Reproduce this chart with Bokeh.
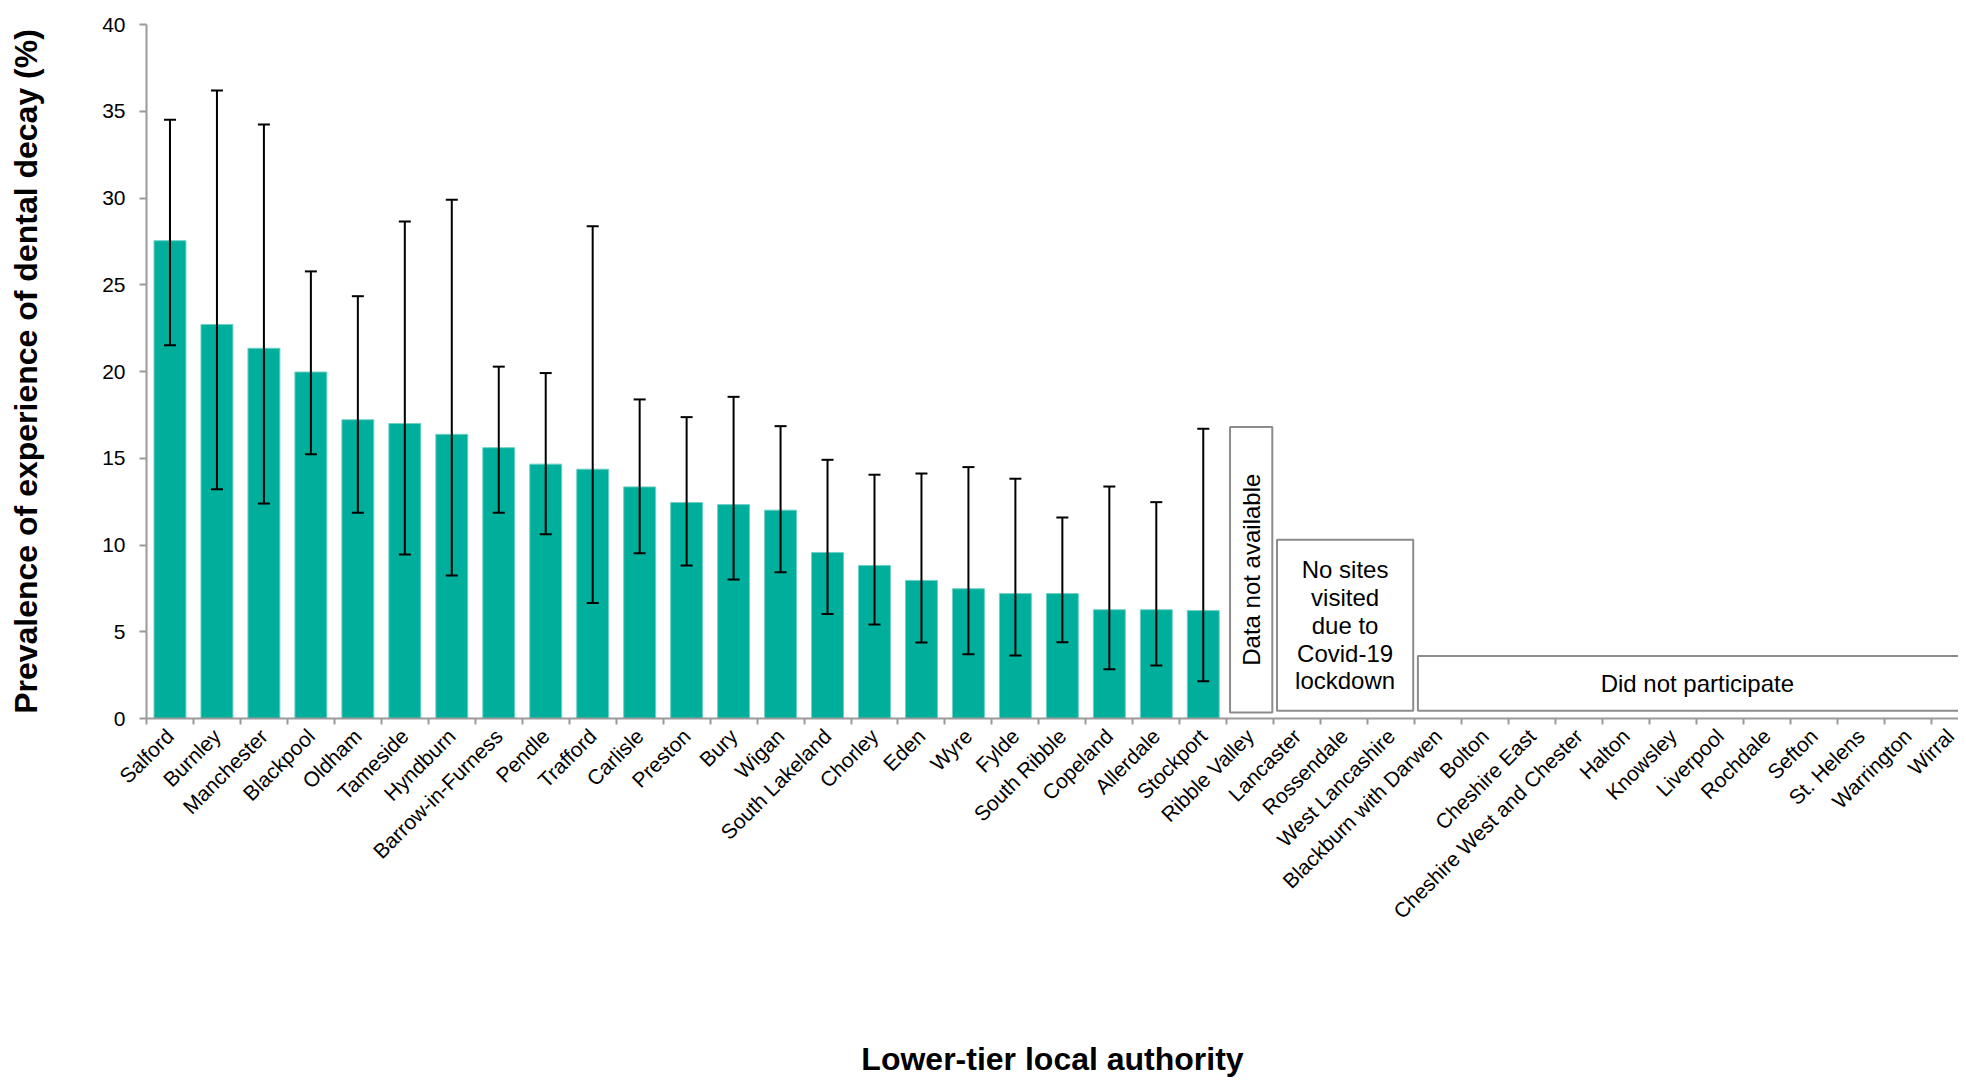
import math
from bokeh.plotting import figure
from bokeh.models import Range1d, FixedTicker, Whisker, TeeHead, ColumnDataSource
from bokeh.core.properties import value
from bokeh.embed import file_html
from bokeh.resources import INLINE

authorities = [
    "Salford", "Burnley", "Manchester", "Blackpool", "Oldham", "Tameside",
    "Hyndburn", "Barrow-in-Furness", "Pendle", "Trafford", "Carlisle", "Preston",
    "Bury", "Wigan", "South Lakeland", "Chorley", "Eden", "Wyre", "Fylde",
    "South Ribble", "Copeland", "Allerdale", "Stockport", "Ribble Valley",
    "Lancaster", "Rossendale", "West Lancashire", "Blackburn with Darwen",
    "Bolton", "Cheshire East", "Cheshire West and Chester", "Halton", "Knowsley",
    "Liverpool", "Rochdale", "Sefton", "St. Helens", "Warrington", "Wirral",
]

prevalence = [27.54, 22.71, 21.34, 19.97, 17.22, 17.00, 16.38, 15.61, 14.66, 14.37,
              13.35, 12.45, 12.33, 12.01, 9.57, 8.82, 7.96, 7.48, 7.20, 7.20,
              6.27, 6.27, 6.22]
ci_upper = [34.51, 36.20, 34.24, 25.77, 24.34, 28.64, 29.90, 20.28, 19.91, 28.37,
            18.39, 17.37, 18.54, 16.85, 14.91, 14.05, 14.12, 14.49, 13.82, 11.59,
            13.37, 12.47, 16.70]
ci_lower = [21.52, 13.22, 12.39, 15.23, 11.86, 9.45, 8.24, 11.86, 10.62, 6.65,
            9.53, 8.82, 8.01, 8.43, 6.03, 5.42, 4.38, 3.71, 3.63, 4.40,
            2.84, 3.05, 2.15]

note_texts = ["Data not available", "No sites\nvisited\ndue to\nCovid-19\nlockdown",
              "Did not participate"]
note_first = ["Ribble Valley", "Lancaster", "Blackburn with Darwen"]
note_last = ["Ribble Valley", "West Lancashire", "Wirral"]
note_top = [16.8, 10.3, 3.6]
note_bottom = [0.35, 0.45, 0.45]
note_angle = [math.pi / 2, 0.0, 0.0]

y_ticks = [0, 5, 10, 15, 20, 25, 30, 35, 40]

FONT = "Liberation Sans"
TEAL = "#00AE9C"
GRAY = "#9a9a9a"
BOX_GRAY = "#8c8c8c"

n = len(authorities)
idx = {a: i for i, a in enumerate(authorities)}

p = figure(width=1958, height=1080, output_backend="svg", toolbar_location=None,
           x_range=Range1d(-0.5, 38.08), y_range=Range1d(0, 40),
           min_border_left=146, min_border_right=0, min_border_top=24,
           min_border_bottom=362)
p.outline_line_color = None
p.xgrid.visible = False
p.ygrid.visible = False
p.background_fill_color = "white"

bar_src = ColumnDataSource(dict(
    x=list(range(len(prevalence))), top=prevalence, upper=ci_upper, lower=ci_lower))
p.vbar(x="x", top="top", width=0.68, bottom=0, source=bar_src,
       fill_color=TEAL, line_color="#6fd0c6", line_width=1)

wh = Whisker(base="x", upper="upper", lower="lower", source=bar_src,
             line_color="black", line_width=2, level="overlay",
             upper_head=TeeHead(size=12, line_color="black", line_width=2),
             lower_head=TeeHead(size=12, line_color="black", line_width=2))
p.add_layout(wh)

left = [idx[a] - 0.5 + 0.07 for a in note_first]
right = [idx[a] + 0.5 - 0.03 for a in note_last]
note_src = ColumnDataSource(dict(
    left=left, right=right, top=note_top, bottom=note_bottom,
    cx=[(l + r) / 2 for l, r in zip(left, right)],
    cy=[(t + b) / 2 for t, b in zip(note_top, note_bottom)],
    text=note_texts, angle=note_angle))
p.quad(left="left", right="right", top="top", bottom="bottom", source=note_src,
       fill_color="white", line_color=BOX_GRAY, line_width=2)
p.text(x="cx", y="cy", text="text", angle="angle", source=note_src,
       text_font=value(FONT), text_font_size="24px", text_align="center",
       text_baseline="middle", text_color="black", text_line_height=1.03)

# x axis
xa = p.xaxis[0]
xa.ticker = FixedTicker(ticks=list(range(n)), minor_ticks=[i - 0.5 for i in range(n + 1)])
xa.major_label_overrides = {i: a for i, a in enumerate(authorities)}
xa.major_label_orientation = math.pi / 4
xa.major_tick_line_color = None
xa.major_tick_out = 0
xa.major_tick_in = 0
xa.minor_tick_line_color = GRAY
xa.minor_tick_line_width = 2
xa.minor_tick_out = 6
xa.minor_tick_in = 0
xa.axis_line_color = GRAY
xa.axis_line_width = 2
xa.major_label_text_font = FONT
xa.major_label_text_font_size = "21px"
xa.major_label_text_color = "black"
xa.major_label_standoff = 8
xa.axis_label = "Lower-tier local authority"
xa.axis_label_text_font = FONT
xa.axis_label_text_font_style = "bold"
xa.axis_label_text_font_size = "32px"
xa.axis_label_text_color = "black"
xa.axis_label_standoff = 107

# y axis
ya = p.yaxis[0]
ya.ticker = FixedTicker(ticks=y_ticks)
ya.minor_tick_line_color = None
ya.major_tick_out = 7
ya.major_tick_in = 0
ya.major_tick_line_color = GRAY
ya.major_tick_line_width = 2
ya.axis_line_color = GRAY
ya.axis_line_width = 2
ya.major_label_text_font = FONT
ya.major_label_text_font_size = "21px"
ya.major_label_text_color = "black"
ya.major_label_standoff = 14
ya.axis_label = "Prevalence of experience of dental decay (%)"
ya.axis_label_text_font = FONT
ya.axis_label_text_font_style = "bold"
ya.axis_label_text_font_size = "32px"
ya.axis_label_text_color = "black"
ya.axis_label_standoff = 55

open("out.html", "w").write(file_html(p, INLINE))
